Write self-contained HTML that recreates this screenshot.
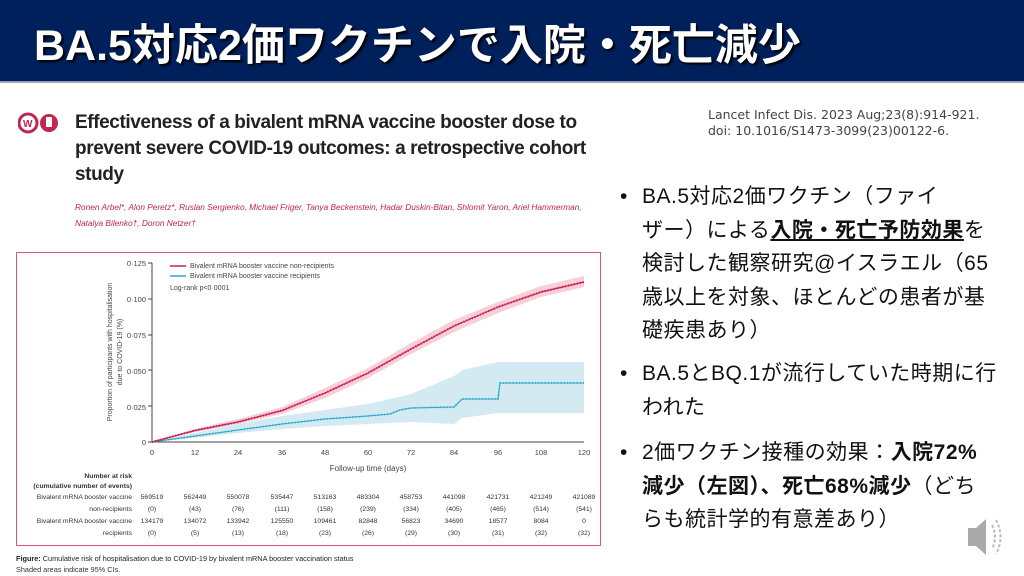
<!DOCTYPE html>
<html><head><meta charset="utf-8"><style>
body{margin:0;width:1024px;height:576px;background:#fff;position:relative;overflow:hidden;font-family:"Liberation Sans","Noto Sans CJK JP",sans-serif}
.hdr{position:absolute;left:0;top:0;width:1024px;height:81px;background:#00205c;border-bottom:2px solid #9aa6bd}
.hdr div{position:absolute;left:34px;top:11px;color:#fff;font-size:43px;font-weight:bold;letter-spacing:0px;text-shadow:2px 2px 2px #000;white-space:nowrap}
.ref{position:absolute;left:708px;top:107px;font-size:12.5px;color:#444;line-height:16px;font-family:"DejaVu Sans",sans-serif}
.bul{position:absolute;left:620px;font-size:21px;letter-spacing:0.5px;color:#111;line-height:33.5px;white-space:nowrap}
.bul p{margin:0;padding-left:22px;position:relative}
.bul p:before{content:"•";position:absolute;left:0}
.ttl{position:absolute;left:75px;top:110px;font-size:19px;line-height:26px;color:#222;font-weight:bold;letter-spacing:-0.4px;white-space:nowrap}
.au{position:absolute;left:75px;top:199px;font-size:8.3px;line-height:16px;color:#c0264e;font-style:italic;white-space:nowrap}
</style></head><body>
<div class="hdr"><div>BA.5対応2価ワクチンで入院・死亡減少</div></div>
<div class="ref">Lancet Infect Dis. 2023 Aug;23(8):914-921.<br>doi: 10.1016/S1473-3099(23)00122-6.</div>
<svg style="position:absolute;left:18px;top:112px" width="46" height="28"><circle cx="10" cy="11" r="9" fill="none" stroke="#c0264e" stroke-width="3"/><text x="5" y="15" font-size="10" fill="#c0264e" font-weight="bold">W</text><circle cx="31" cy="11" r="9" fill="#c0264e"/><rect x="28" y="5" width="6" height="10" fill="#fff"/></svg>
<div class="ttl">Effectiveness of a bivalent mRNA vaccine booster dose to<br>prevent severe COVID-19 outcomes: a retrospective cohort<br>study</div>
<div class="au">Ronen Arbel*, Alon Peretz*, Ruslan Sergienko, Michael Friger, Tanya Beckenstein, Hadar Duskin-Bitan, Shlomit Yaron, Ariel Hammerman,<br>Natalya Bilenko†, Doron Netzer†</div>
<div style="position:absolute;left:16px;top:252px;width:583px;height:292px;border:1.5px solid #d4587c"></div>
<svg style="position:absolute;left:0;top:0" width="1024" height="576" font-family="Liberation Sans,sans-serif">
<g font-size="7.5" fill="#444" text-anchor="end">
<text x="146" y="266">0·125</text><text x="146" y="302">0·100</text><text x="146" y="338">0·075</text><text x="146" y="374">0·050</text><text x="146" y="410">0·025</text><text x="146" y="445">0</text></g>
<g stroke="#444" stroke-width="1"><line x1="152" y1="263" x2="152" y2="442"/><line x1="152" y1="442" x2="584" y2="442"/>
<line x1="148" y1="263" x2="152" y2="263"/><line x1="148" y1="299" x2="152" y2="299"/><line x1="148" y1="335" x2="152" y2="335"/><line x1="148" y1="370" x2="152" y2="370"/><line x1="148" y1="406" x2="152" y2="406"/><line x1="148" y1="442" x2="152" y2="442"/></g>
<g font-size="7.5" fill="#444" text-anchor="middle">
<text x="152" y="455">0</text><text x="195" y="455">12</text><text x="238" y="455">24</text><text x="282" y="455">36</text><text x="325" y="455">48</text><text x="368" y="455">60</text><text x="411" y="455">72</text><text x="454" y="455">84</text><text x="498" y="455">96</text><text x="541" y="455">108</text><text x="584" y="455">120</text>
<text x="368" y="471" font-size="8">Follow-up time (days)</text></g>
<text transform="translate(112,352) rotate(-90)" font-size="7" fill="#444" text-anchor="middle"><tspan x="0" y="0">Proportion of participants with hospitalisation</tspan><tspan x="0" y="10">due to COVID-19 (%)</tspan></text>
<line x1="170" y1="266" x2="186" y2="266" stroke="#cc2050" stroke-width="1.5"/><text x="190" y="268" font-size="7" fill="#444">Bivalent mRNA booster vaccine non-recipients</text>
<line x1="170" y1="276" x2="186" y2="276" stroke="#2aa9cc" stroke-width="1.5"/><text x="190" y="278" font-size="7" fill="#444">Bivalent mRNA booster vaccine recipients</text>
<text x="170" y="290" font-size="7" fill="#444">Log-rank p&lt;0·0001</text>
<path d="M152,442 L195,432 238,424 282,414 325,398 368,378 411,354 454,332 498,313 541,297 584,287 L584,276 541,286 498,302 454,320 411,343 368,368 325,388 282,407 238,419 195,429 152,442Z" fill="#f2c4cf" opacity="0.8"/>
<path d="M152,442 L195,438 238,433 282,429 325,426 368,424 411,422 454,424 462,418 498,413 584,413 L584,362 498,362 462,370 454,376 411,394 368,404 325,410 282,416 238,424 195,433 152,442Z" fill="#cfe8f2" opacity="0.9"/>
<polyline points="152,442 195,436 238,430 282,424 325,419 368,416 390,414 400,410 411,408 454,407 462,399 498,399 500,383 584,383" fill="none" stroke="#2aa9cc" stroke-width="1.8" stroke-dasharray="1 2.2"/>
<polyline points="152,442 195,436 238,430 282,424 325,419 368,416 390,414 400,410 411,408 454,407 462,399 498,399 500,383 584,383" fill="none" stroke="#2aa9cc" stroke-width="1"/>
<polyline points="152,442 195,430.5 238,422 282,410.5 325,393 368,373 411,349 454,326 498,307 541,292 584,282" fill="none" stroke="#cc2050" stroke-width="2.2" stroke-dasharray="1 2"/>
<polyline points="152,442 195,430.5 238,422 282,410.5 325,393 368,373 411,349 454,326 498,307 541,292 584,282" fill="none" stroke="#cc2050" stroke-width="1.2"/>
<g font-size="6.8" fill="#333" text-anchor="end"><text x="132" y="478" font-weight="bold">Number at risk</text><text x="132" y="488" font-weight="bold">(cumulative number of events)</text>
<text x="132" y="499">Bivalent mRNA booster vaccine</text><text x="132" y="511">non-recipients</text><text x="132" y="523">Bivalent mRNA booster vaccine</text><text x="132" y="535">recipients</text></g>
<g font-size="6.8" fill="#333" text-anchor="middle">
<text x="152" y="499">569519</text><text x="195" y="499">562449</text><text x="238" y="499">550078</text><text x="282" y="499">535447</text><text x="325" y="499">513163</text><text x="368" y="499">483304</text><text x="411" y="499">458753</text><text x="454" y="499">441098</text><text x="498" y="499">421731</text><text x="541" y="499">421249</text><text x="584" y="499">421089</text>
<text x="152" y="511">(0)</text><text x="195" y="511">(43)</text><text x="238" y="511">(76)</text><text x="282" y="511">(111)</text><text x="325" y="511">(158)</text><text x="368" y="511">(239)</text><text x="411" y="511">(334)</text><text x="454" y="511">(405)</text><text x="498" y="511">(465)</text><text x="541" y="511">(514)</text><text x="584" y="511">(541)</text>
<text x="152" y="523">134179</text><text x="195" y="523">134072</text><text x="238" y="523">133942</text><text x="282" y="523">125550</text><text x="325" y="523">109461</text><text x="368" y="523">82848</text><text x="411" y="523">56823</text><text x="454" y="523">34690</text><text x="498" y="523">18577</text><text x="541" y="523">8084</text><text x="584" y="523">0</text>
<text x="152" y="535">(0)</text><text x="195" y="535">(5)</text><text x="238" y="535">(13)</text><text x="282" y="535">(18)</text><text x="325" y="535">(23)</text><text x="368" y="535">(26)</text><text x="411" y="535">(29)</text><text x="454" y="535">(30)</text><text x="498" y="535">(31)</text><text x="541" y="535">(32)</text><text x="584" y="535">(32)</text></g>
<text x="16" y="561" font-size="7.3" fill="#222"><tspan font-weight="bold">Figure:</tspan> Cumulative risk of hospitalisation due to COVID-19 by bivalent mRNA booster vaccination status</text>
<text x="16" y="572" font-size="7.3" fill="#333">Shaded areas indicate 95% CIs.</text>
<path d="M968,528 h8 l10,-9 v36 l-10,-9 h-8z" fill="#aaa"/>
<path d="M992,525 q6,12 0,24 M996,520 q9,17 0,34" stroke="#bbb" stroke-width="2" fill="none" stroke-dasharray="3 2"/>
</svg>
<div class="bul" style="top:180px"><p>BA.5対応2価ワクチン（ファイ<br>ザー）による<b><u>入院・死亡予防効果</u></b>を<br>検討した観察研究@イスラエル（65<br>歳以上を対象、ほとんどの患者が基<br>礎疾患あり）</p></div>
<div class="bul" style="top:357px"><p>BA.5とBQ.1が流行していた時期に行<br>われた</p></div>
<div class="bul" style="top:436px"><p>2価ワクチン接種の効果：<b>入院72%</b><br><b>減少（左図）、死亡68%減少</b>（どち<br>らも統計学的有意差あり）</p></div>
</body></html>
